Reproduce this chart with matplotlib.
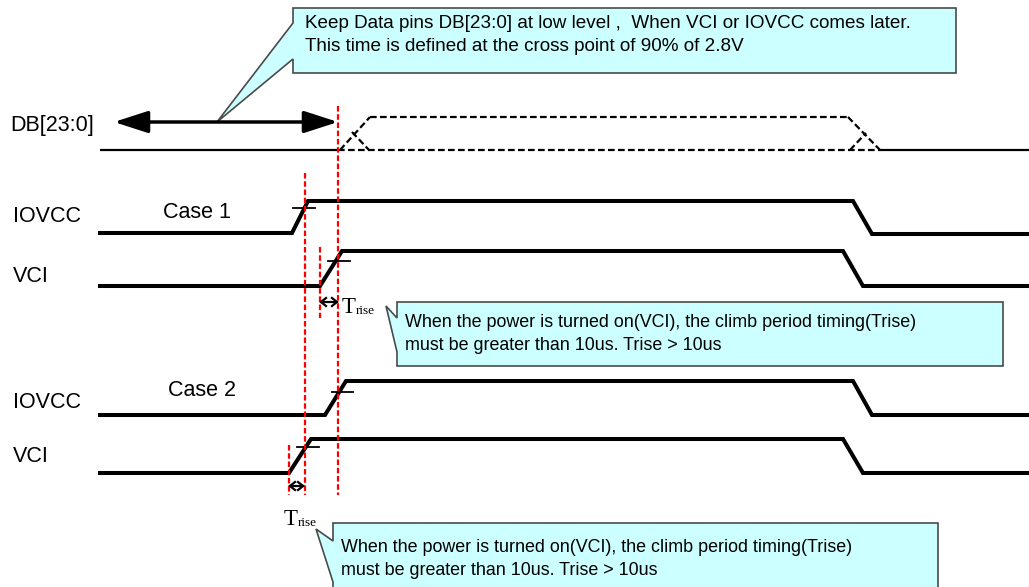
import matplotlib
matplotlib.use("Agg")
import matplotlib.pyplot as plt
from matplotlib.patches import Polygon

plt.rcParams['font.family'] = ['Liberation Sans', 'DejaVu Sans']

# ---- data (pixel-space diagram coordinates) ----
signal_names = ["IOVCC", "VCI", "IOVCC", "VCI"]
signal_label_y = [216, 277, 402, 457]
iovcc1_x = [98, 292, 308, 853, 872, 1029]
iovcc1_y = [233, 233, 201, 201, 234, 234]
vci1_x = [98, 320, 342, 843, 863, 1029]
vci1_y = [286, 286, 251, 251, 286, 286]
iovcc2_x = [98, 325, 346, 853, 872, 1029]
iovcc2_y = [415, 415, 381, 381, 415, 415]
vci2_x = [98, 289, 311, 843, 863, 1029]
vci2_y = [473, 473, 439, 439, 473, 473]
waveforms = [(iovcc1_x, iovcc1_y), (vci1_x, vci1_y), (iovcc2_x, iovcc2_y), (vci2_x, vci2_y)]

# 90% marks: (x0, x1, y)
marks = [(293, 315, 208), (328, 350, 261), (332, 353, 392), (297, 319, 447)]

# red dashed reference lines: (x, y0, y1)
red_lines = [(338, 106, 495), (305, 173, 495), (320, 247, 318), (289, 445, 495)]

case_labels = ["Case 1", "Case 2"]
case_pos = [(163, 213), (168, 390)]

db_label = "DB[23:0]"
callout_texts = [
    "Keep Data pins DB[23:0] at low level ,  When VCI or IOVCC comes later.\nThis time is defined at the cross point of 90% of 2.8V",
    "When the power is turned on(VCI), the climb period timing(Trise)\nmust be greater than 10us. Trise > 10us",
    "When the power is turned on(VCI), the climb period timing(Trise)\nmust be greater than 10us. Trise > 10us",
]
callout_sizes = [13.6, 12.9, 12.9]
callout_shapes = [
    [(293, 8), (956, 8), (956, 73), (293, 73), (293, 59), (217, 122), (293, 23)],
    [(397, 302), (1003, 302), (1003, 366), (397, 366), (397, 352), (386, 306), (397, 318)],
    [(333, 523), (938, 523), (938, 600), (333, 600), (333, 582), (316, 529), (333, 541)],
]
callout_text_pos = [(305, 35), (405, 334), (341, 559)]

trise_arrows = [(320, 338, 302), (289, 304, 486)]
trise_text = [(342, 313), (284, 525)]

fig = plt.figure(figsize=(10.29, 5.87), dpi=100)
ax = fig.add_axes([0, 0, 1, 1])
ax.set_xlim(0, 1029)
ax.set_ylim(587, 0)
ax.axis('off')

# callouts
fill = '#ccffff'
for shape, txt, (tx, ty), fs in zip(callout_shapes, callout_texts, callout_text_pos, callout_sizes):
    ax.add_patch(Polygon(shape, closed=True, facecolor=fill, edgecolor='#4a4a4a', lw=1.2, zorder=1))
    ax.text(tx, ty, txt, fontsize=fs, va='center', ha='left', linespacing=1.4, zorder=5)

# DB line
ax.plot([100, 338], [150, 150], color='black', lw=1.6, solid_capstyle='butt')
ax.plot([880, 1029], [150, 150], color='black', lw=1.6, solid_capstyle='butt')
dash = dict(color='black', lw=1.6, linestyle=(0, (3, 1.5)))
ax.plot([338, 880], [150, 150], **dash)
ax.plot([370, 848], [117, 117], **dash)
ax.plot([340, 370], [150, 117], **dash)
ax.plot([352, 369], [132, 150], **dash)
ax.plot([848, 880], [117, 150], **dash)
ax.plot([850, 866], [150, 133], **dash)

ax.annotate('', xy=(338, 122), xytext=(114, 122),
            arrowprops=dict(arrowstyle='<|-|>,head_length=1.3,head_width=0.42', color='black',
                            lw=2.5, shrinkA=0, shrinkB=0, mutation_scale=16))
ax.text(10, 126, db_label, fontsize=15.5, va='center', ha='left')

# waveforms
for (xs, ys) in waveforms:
    ax.plot(xs, ys, color='black', lw=2.9, solid_joinstyle='miter', solid_capstyle='butt', zorder=3)
for x0, x1, y in marks:
    ax.plot([x0, x1], [y, y], color='black', lw=1.3, zorder=3)

for name, y in zip(signal_names, signal_label_y):
    ax.text(13, y, name, fontsize=15.5, va='center', ha='left')
for lab, (x, y) in zip(case_labels, case_pos):
    ax.text(x, y, lab, fontsize=15.5, va='center', ha='left')

for x, y0, y1 in red_lines:
    ax.plot([x, x], [y0, y1], color='#ff0000', lw=1.6, linestyle=(0, (2.5, 1.2)), zorder=4)

# Trise double arrows (open chevron heads)
hl, hw = 5, 4
for x0, x1, y in trise_arrows:
    ax.plot([x0 + 1, x1 - 1], [y, y], color='black', lw=1.6, zorder=5)
    ax.plot([x0 + 1 + hl, x0 + 1, x0 + 1 + hl], [y - hw, y, y + hw], color='black', lw=1.6,
            solid_joinstyle='miter', zorder=5)
    ax.plot([x1 - 1 - hl, x1 - 1, x1 - 1 - hl], [y - hw, y, y + hw], color='black', lw=1.6,
            solid_joinstyle='miter', zorder=5)
for x, y in trise_text:
    ax.text(x, y, 'T', fontsize=16.5, family='Liberation Serif', va='baseline', ha='left')
    ax.text(x + 14, y + 1, 'rise', fontsize=9.5, family='Liberation Serif', va='baseline', ha='left')

fig.savefig('out.png', dpi=100)
